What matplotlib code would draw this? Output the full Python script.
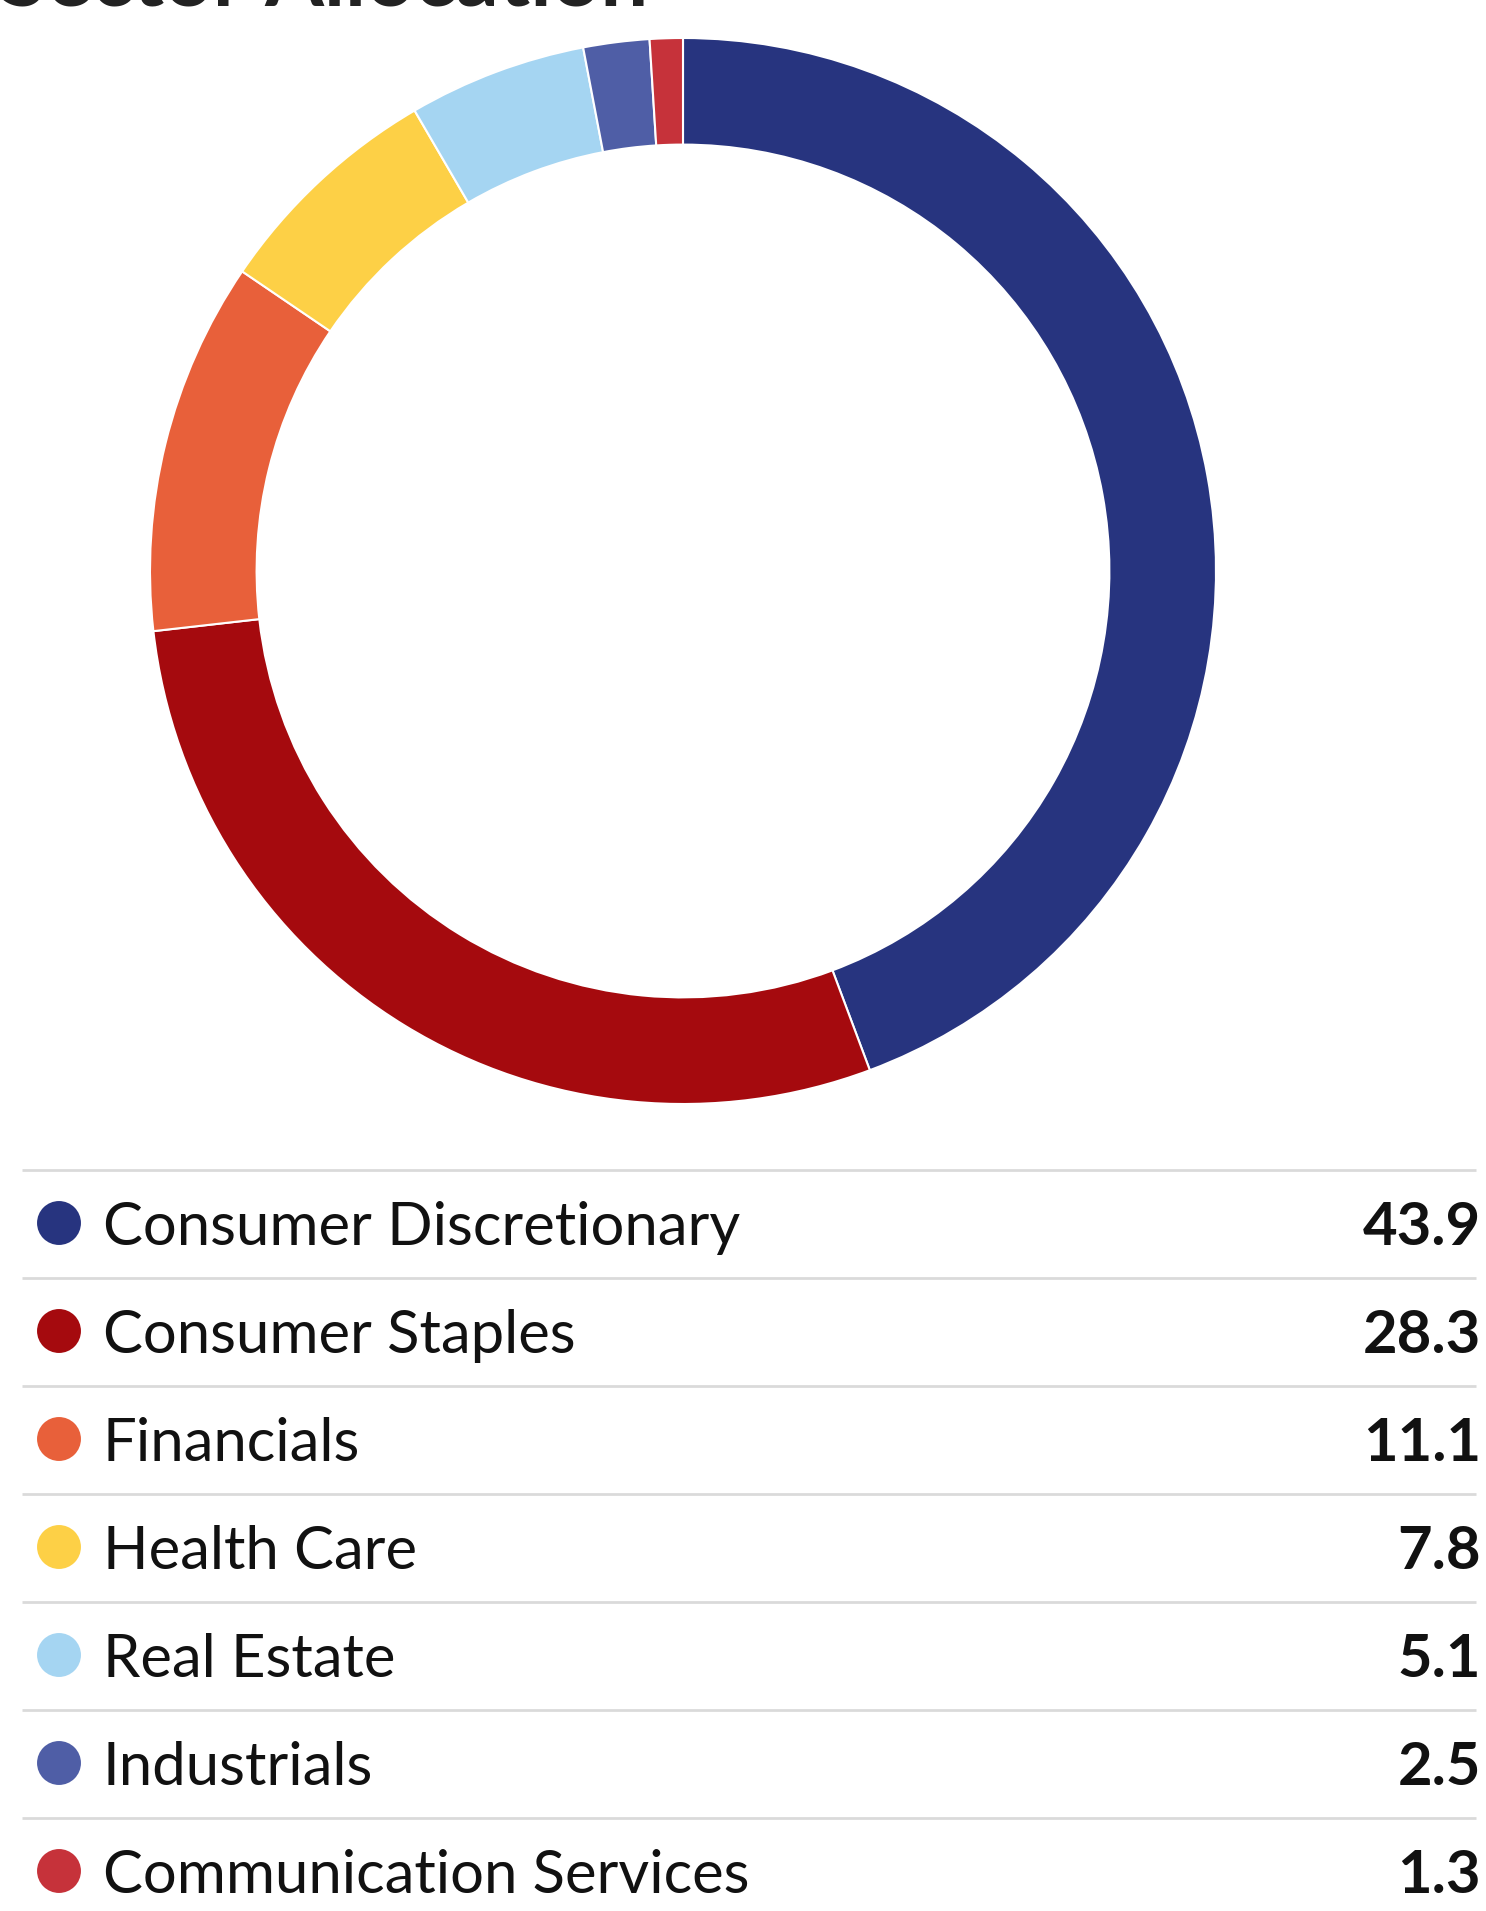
import matplotlib
matplotlib.use("Agg")
import matplotlib.pyplot as plt

categories = ["Consumer Discretionary", "Consumer Staples", "Financials", "Health Care",
              "Real Estate", "Industrials", "Communication Services"]
# Values printed in the table
values = [43.9, 28.3, 11.1, 7.8, 5.1, 2.5, 1.3]
value_labels = ["43.9", "28.3", "11.1", "7.8", "5.1", "2.5", "1.3"]
# Shares of the ring
ring_shares = [44.3, 28.9, 11.3, 7.1, 5.4, 2.0, 1.0]
colors = ["#27347F", "#A50A0E", "#E8603A", "#FDD046", "#A5D5F2", "#4F5EA6", "#C6323A"]
title = "Sector Allocation"

W, H = 1486, 1911
fig = plt.figure(figsize=(W / 100, H / 100), dpi=100)
fig.patch.set_facecolor("white")

# Donut
cx, cy, R = 683, 571, 533
ax = fig.add_axes([(cx - R) / W, (H - cy - R) / H, 2 * R / W, 2 * R / H])
ax.pie(ring_shares, colors=colors, startangle=90, counterclock=False, radius=1,
       wedgeprops=dict(width=0.2, edgecolor="white", linewidth=1.5))
ax.set_xlim(-1, 1)
ax.set_ylim(-1, 1)
ax.set_aspect("auto")
ax.axis("off")

# Overlay for title and legend table
ov = fig.add_axes([0, 0, 1, 1])
ov.set_xlim(0, W)
ov.set_ylim(H, 0)
ov.axis("off")

ov.text(0, 6, title, fontsize=61, fontweight="bold", family="Lato",
        color="#222222", va="baseline", ha="left")

row0, step = 1170, 108
for i, (cat, lab, col) in enumerate(zip(categories, value_labels, colors)):
    ytop = row0 + i * step
    ov.plot([22, 1476], [ytop, ytop], color="#DADADA", lw=2, solid_capstyle="butt")
    yc = ytop + 53
    ov.scatter([59], [yc], s=1000, color=col, edgecolors="none")
    ov.text(103, yc, cat, fontsize=43, family="Lato", color="#111111",
            va="center_baseline", ha="left")
    ov.text(1481, yc, lab, fontsize=43, family="Lato", fontweight="bold",
            color="#111111", va="center_baseline", ha="right")

fig.savefig("out.png", dpi=100, facecolor="white")
